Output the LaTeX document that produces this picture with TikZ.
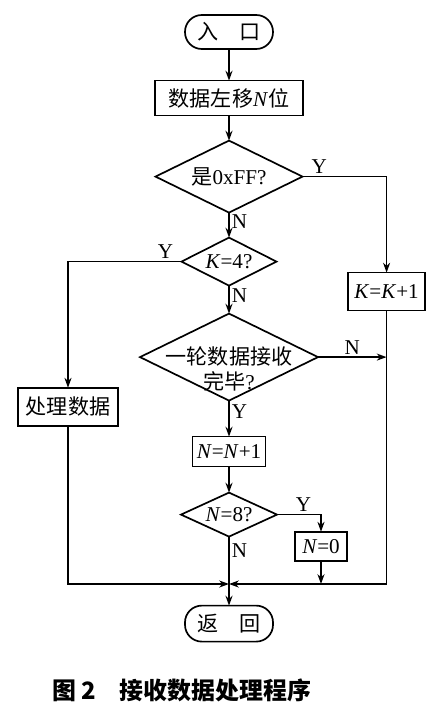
\documentclass[tikz,border=0pt]{standalone}
\usepackage{fontspec}
\setmainfont{Liberation Serif}
\newfontfamily\cjk{Noto Sans CJK SC}
\newcommand{\zh}[1]{{\cjk #1}}
\usetikzlibrary{positioning,shapes.geometric,arrows.meta}

\begin{document}
\begin{tikzpicture}[
        line width=1.2pt,
        every node/.style={font=\fontsize{15}{18}\selectfont, inner sep=0pt, outer sep=0pt},
        term/.style={draw, rounded corners=0.42cm, minimum width=2.2cm, minimum height=0.85cm},
        proc/.style={draw, minimum height=0.8cm},
        cond/.style={draw, diamond, aspect=2},
        lbl/.style={inner sep=2pt},
        arr/.style={-{Stealth[length=7pt,width=5pt]}}
    ]
        \useasboundingbox (0,0) rectangle (11.1,-17.9);

        \node[term] (entry) at (5.725,-0.8) {\zh{入\quad 口}};
        \node[proc, minimum width=3.7cm, minimum height=0.875cm, below=0.79cm of entry] (shift) {\zh{数据左移}\textit{N}\zh{位}};
        \node[cond, minimum width=3.675cm, minimum height=1.8cm, below=0.625cm of shift,
            label={center:\zh{是}0xFF?}] (isff) {};
        \node[cond, minimum width=2.375cm, minimum height=1.2cm, below=0.625cm of isff,
            label={center:\textit{K}=4?}] (kfour) {};
        \node[cond, minimum width=4.45cm, minimum height=2.175cm, below=0.7cm of kfour,
            label={[align=center, yshift=-0.3cm]center:{\zh{一轮数据接收}\\\zh{完毕}?}}] (done) {};
        \node[proc, minimum width=1.825cm, minimum height=0.75cm, below=0.9cm of done] (ninc) {\textit{N}=\textit{N}+1};
        \node[cond, minimum width=2.4cm, minimum height=1.1cm, below=0.65cm of ninc,
            label={center:\textit{N}=8?}] (neight) {};
        \node[term, minimum height=0.9cm, below=1.725cm of neight] (ret) {\zh{返\quad 回}};

        \node[proc, minimum width=1.925cm, minimum height=0.95cm, right=1.79cm of kfour, yshift=-0.75cm] (kinc) {\textit{K}=\textit{K}+1};
        \node[proc, minimum width=2.5cm, minimum height=0.95cm, left=0.55cm of done, yshift=-1.24cm] (handle) {\zh{处理数据}};
        \node[proc, minimum width=1.3cm, minimum height=0.725cm, right=0.45cm of neight, yshift=-0.79cm] (nzero) {\textit{N}=0};
        \coordinate[above=0.54cm of ret] (merge);

        \node[anchor=west, font=\cjk\bfseries\fontsize{17}{20}\selectfont] (caption) at (1.3,-17.25) {图 2\quad 接收数据处理程序};

        \draw[arr] (entry) -- (shift);
        \draw[arr] (shift) -- (isff);
        \draw[arr] (isff) -- node[lbl, pos=0.35, right] {N} (kfour);
        \draw[arr] (kfour) -- node[lbl, pos=0.35, right] {N} (done);
        \draw[arr] (done) -- node[lbl, pos=0.3, right] {Y} (ninc);
        \draw[arr] (ninc) -- (neight);
        \draw[arr] (neight) -- node[lbl, pos=0.2, right] {N} (ret);

        \draw[arr] (isff.east) -| node[lbl, pos=0.1, above] {Y} (kinc.north);
        \draw[arr] (kfour.west) -| node[lbl, pos=0.07, above] {Y} (handle.north);
        \draw[arr] (done.east) -- node[lbl, midway, above] {N} (done.east -| kinc.south);
        \draw[arr] (neight.east) -| node[lbl, pos=0.3, above] {Y} (nzero.north);

        \draw[arr] (handle.south) |- (merge);
        \draw[arr] (kinc.south) |- (merge);
        \draw[arr] (nzero.south) -- (nzero.south |- merge);
    \end{tikzpicture}
\end{document}
